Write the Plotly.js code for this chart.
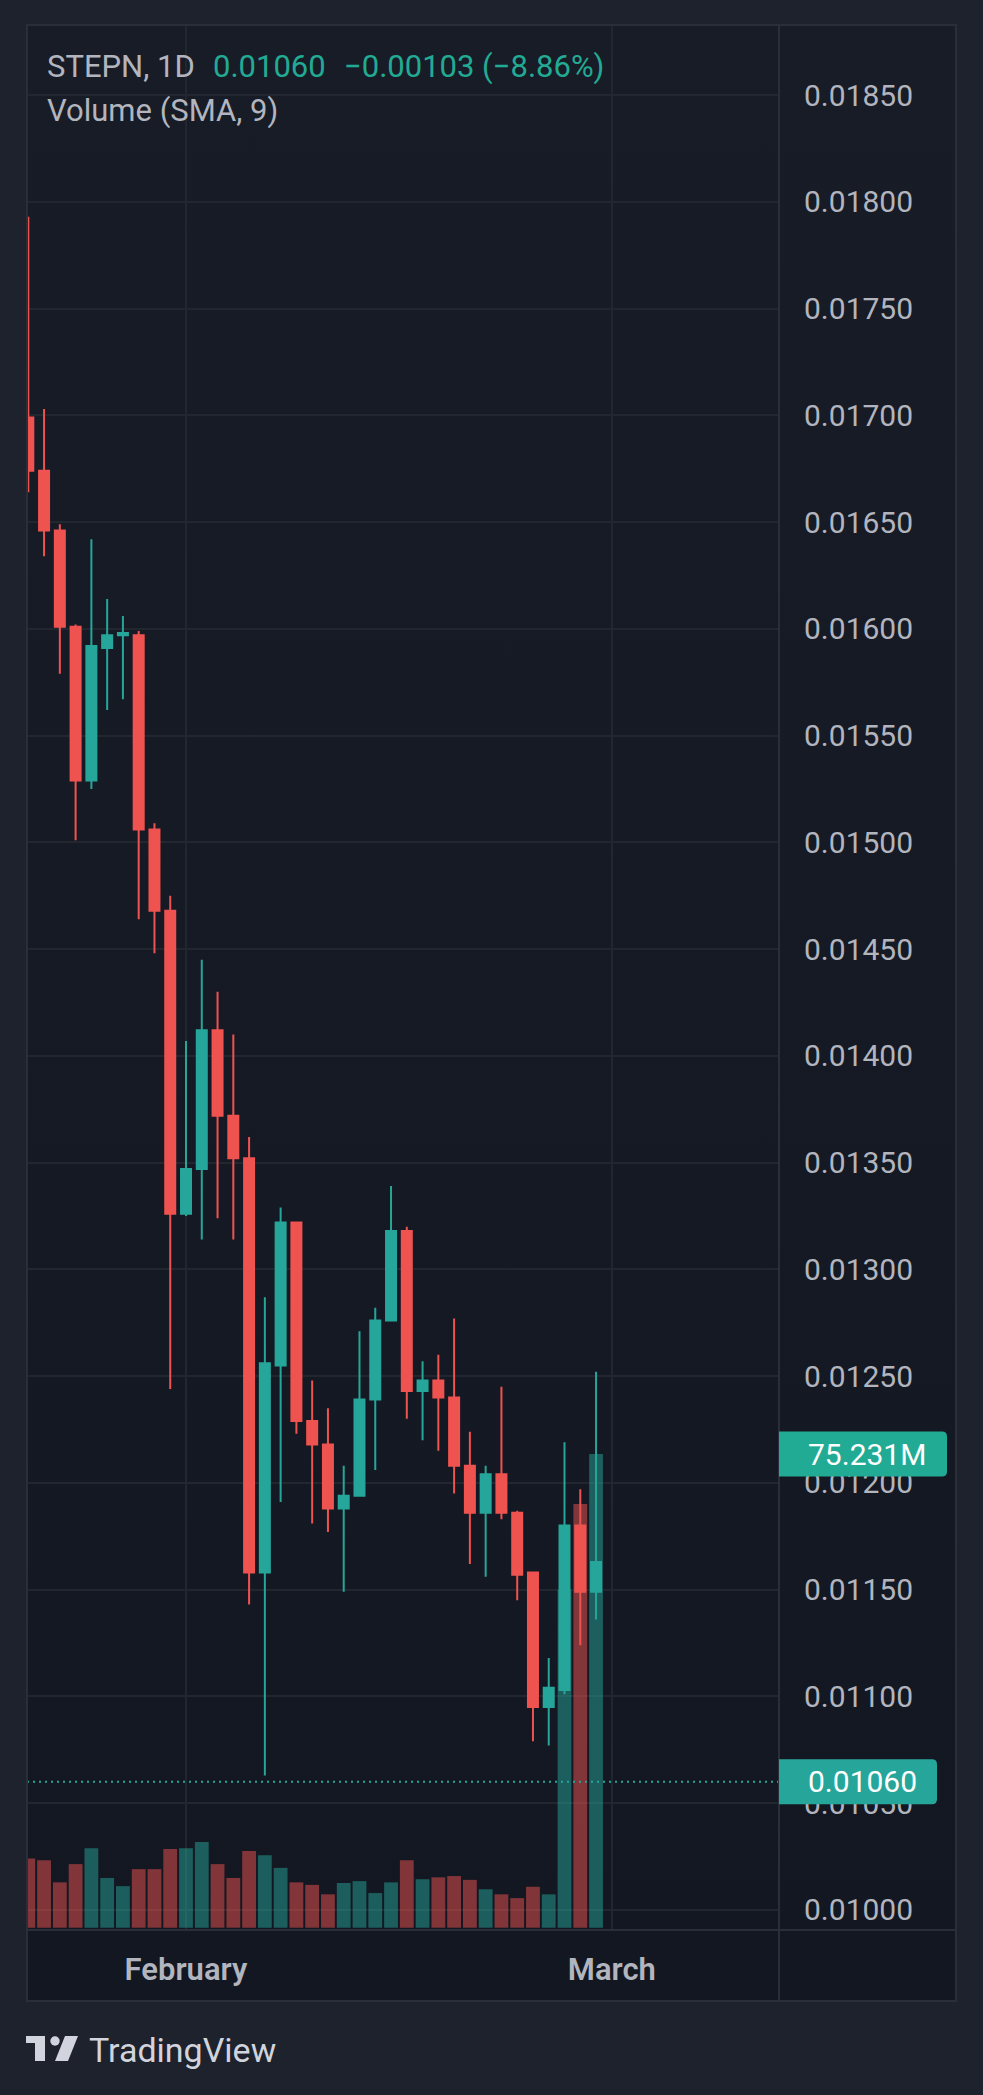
<!DOCTYPE html>
<html><head><meta charset="utf-8">
<script src="https://cdn.plot.ly/plotly-3.0.1.min.js"></script>
<style>html,body{margin:0;padding:0;background:#1e222d;}#chart{width:983px;height:2095px;}</style>
</head><body><div id="chart"></div>
<script>
// ---- data ----
const dayIdx = [0,1,2,3,4,5,6,7,8,9,10,11,12,13,14,15,16,17,18,19,20,21,22,23,24,25,26,27,28,29,30,31,32,33,34,35,36];
const openP  = [0.01699,0.01674,0.01646,0.01601,0.01529,0.01591,0.01597,0.01597,0.01506,0.01468,0.01326,0.01347,0.01412,0.01372,0.01352,0.01158,0.01255,0.01322,0.01229,0.01218,0.01188,0.01194,0.01239,0.01276,0.01318,0.01243,0.01248,0.01240,0.01208,0.01186,0.01204,0.01186,0.01158,0.01095,0.01103,0.01180,0.01149];
const highP  = [0.01793,0.01703,0.01649,0.01602,0.01642,0.01614,0.01606,0.01599,0.01509,0.01475,0.01407,0.01445,0.01430,0.01410,0.01362,0.01287,0.01329,0.01322,0.01248,0.01235,0.01208,0.01271,0.01282,0.01339,0.01320,0.01257,0.01260,0.01277,0.01224,0.01208,0.01245,0.01187,0.01158,0.01118,0.01219,0.01197,0.01252];
const lowP   = [0.01664,0.01634,0.01579,0.01501,0.01525,0.01562,0.01567,0.01464,0.01448,0.01244,0.01325,0.01314,0.01324,0.01314,0.01143,0.01063,0.01191,0.01223,0.01181,0.01177,0.01149,0.01194,0.01206,0.01276,0.01230,0.01220,0.01215,0.01195,0.01162,0.01156,0.01183,0.01145,0.01079,0.01077,0.01101,0.01124,0.01136];
const closeP = [0.01674,0.01646,0.01601,0.01529,0.01592,0.01597,0.01598,0.01506,0.01468,0.01326,0.01347,0.01412,0.01372,0.01352,0.01158,0.01256,0.01322,0.01229,0.01218,0.01188,0.01194,0.01239,0.01276,0.01318,0.01243,0.01248,0.01240,0.01208,0.01186,0.01204,0.01186,0.01157,0.01095,0.01104,0.01180,0.01149,0.01163];
const volume = [11.0e6,10.7e6,7.2e6,10.1e6,12.6e6,7.9e6,6.6e6,9.3e6,9.3e6,12.5e6,12.6e6,13.6e6,10.1e6,7.9e6,12.2e6,11.5e6,9.5e6,7.2e6,6.8e6,5.3e6,7.1e6,7.4e6,5.5e6,7.2e6,10.7e6,7.7e6,8.0e6,8.2e6,7.6e6,6.1e6,5.3e6,4.7e6,6.5e6,5.3e6,53.7e6,67.3e6,75.231e6];
const monthTicks = [10, 37];
const monthLabels = ['February', 'March'];
const priceTicks = [0.0100,0.0105,0.0110,0.0115,0.0120,0.0125,0.0130,0.0135,0.0140,0.0145,0.0150,0.0155,0.0160,0.0165,0.0170,0.0175,0.0180,0.0185];
const symbolLabel = 'STEPN, 1D';
const lastPrice = 0.01060;
const priceChange = -0.00103;
const priceChangePct = -8.86;
const volumeLabel = 'Volume (SMA, 9)';

// ---- layout geometry (pixels) ----
const L = 27, R = 779, T = 25, B = 1930;
const px = X => (X - L) / (R - L);
const py = Y => (B - Y) / (B - T);
const priceRange = [0.009906, 0.018828];
const volRange = [-0.365e6, 302.2e6];
const xRange = [-0.082, 47.60];
const priceUnitPx = (priceRange[1] - priceRange[0]) / (B - T);
const volUnitPx = (volRange[1] - volRange[0]) / (B - T);

const UP = '#26a69a', DOWN = '#ef5350';
const volColors = closeP.map((c, i) => c >= openP[i] ? 'rgba(38,166,154,0.5)' : 'rgba(239,83,80,0.5)');

const traces = [
  { type: 'bar', x: dayIdx, y: volume, yaxis: 'y', xaxis: 'x',
    marker: { color: volColors, line: { width: 0 } }, hoverinfo: 'skip' },
  { type: 'candlestick', x: dayIdx, open: openP, high: highP, low: lowP, close: closeP,
    xaxis: 'x', yaxis: 'y2', whiskerwidth: 0,
    increasing: { line: { color: UP, width: 2 }, fillcolor: UP },
    decreasing: { line: { color: DOWN, width: 2 }, fillcolor: DOWN },
    hoverinfo: 'skip' }
];

function labelBox(x0, x1, yc, halfPx, unitPx, rPx, yref, color) {
  const xa = px(x0), xb = px(x1), rx = rPx / (R - L);
  const yb = yc - halfPx * unitPx, yt = yc + halfPx * unitPx, ry = rPx * unitPx;
  return { type: 'path', xref: 'paper', yref: yref, layer: 'above',
    path: `M ${xa},${yb} L ${xb - rx},${yb} Q ${xb},${yb} ${xb},${yb + ry} L ${xb},${yt - ry} Q ${xb},${yt} ${xb - rx},${yt} L ${xa},${yt} Z`,
    fillcolor: color, line: { width: 0 } };
}

const lastVol = volume[volume.length - 1];
const frameColor = '#2a2e39';
const gridColor = '#22262f';
const logoColor = '#d1d4dc';

const shapes = [
  { type: 'line', xref: 'paper', yref: 'y2', x0: 0, x1: 1, y0: lastPrice, y1: lastPrice, layer: 'above',
    line: { color: UP, width: 2, dash: '2px,4px' } },
  { type: 'rect', xref: 'paper', yref: 'paper', x0: px(27), x1: px(956), y0: py(2001), y1: py(25), layer: 'above',
    line: { color: frameColor, width: 2 }, fillcolor: 'rgba(0,0,0,0)' },
  { type: 'line', xref: 'paper', yref: 'paper', x0: px(779), x1: px(779), y0: py(2001), y1: py(25), layer: 'above',
    line: { color: frameColor, width: 2 } },
  { type: 'line', xref: 'paper', yref: 'paper', x0: px(27), x1: px(956), y0: py(1930), y1: py(1930), layer: 'above',
    line: { color: frameColor, width: 2 } },
  labelBox(779, 947, lastVol, 22.5, volUnitPx, 5, 'y', '#22ab94'),
  labelBox(779, 937, lastPrice, 22.5, priceUnitPx, 5, 'y2', UP),
  // TradingView logo
  { type: 'path', xref: 'paper', yref: 'paper', layer: 'above', fillcolor: logoColor, line: { width: 0 },
    path: `M ${px(26)},${py(2036)} L ${px(45)},${py(2036)} L ${px(45)},${py(2061)} L ${px(35)},${py(2061)} L ${px(35)},${py(2043)} L ${px(26)},${py(2043)} Z` },
  { type: 'circle', xref: 'paper', yref: 'paper', layer: 'above', fillcolor: logoColor, line: { width: 0 },
    x0: px(50.3), x1: px(59.7), y0: py(2045.7), y1: py(2036.3) },
  { type: 'path', xref: 'paper', yref: 'paper', layer: 'above', fillcolor: logoColor, line: { width: 0 },
    path: `M ${px(65)},${py(2036)} L ${px(78)},${py(2036)} L ${px(68)},${py(2061)} L ${px(55)},${py(2061)} Z` }
];

const txt = '#b2b5be';
const ann = (text, X, Y, opts) => Object.assign({ text, xref: 'paper', yref: 'paper', x: px(X), y: py(Y),
  xanchor: 'left', yanchor: 'middle', showarrow: false, font: { family: 'Roboto', size: 31, color: txt } }, opts || {});

const fmtSigned = v => (v < 0 ? '\u2212' : '+') + Math.abs(v).toFixed(5);
const annotations = [
  ann(symbolLabel, 45, 66),
  ann(lastPrice.toFixed(5), 211, 66, { font: { family: 'Roboto', size: 31, color: '#22ab94' } }),
  ann(`${fmtSigned(priceChange)} (${priceChangePct < 0 ? '\u2212' : '+'}${Math.abs(priceChangePct).toFixed(2)}%)`, 342, 66,
      { font: { family: 'Roboto', size: 31, color: '#22ab94' } }),
  ann(volumeLabel, 45, 111),
  { text: (lastVol / 1e6).toFixed(3) + 'M', xref: 'paper', yref: 'y', x: px(806), y: lastVol, xanchor: 'left', yanchor: 'middle',
    showarrow: false, font: { family: 'Roboto', size: 30, color: '#ffffff' } },
  { text: lastPrice.toFixed(5), xref: 'paper', yref: 'y2', x: px(806), y: lastPrice, xanchor: 'left', yanchor: 'middle',
    showarrow: false, font: { family: 'Roboto', size: 30, color: '#ffffff' } },
  ann('TradingView', 87, 2050, { font: { family: 'Roboto', size: 34, color: logoColor } })
];

const gradSvg = "<svg xmlns='http://www.w3.org/2000/svg' width='10' height='100' preserveAspectRatio='none'><defs><linearGradient id='g' x1='0' y1='0' x2='0' y2='1'><stop offset='0' stop-color='#181c27'/><stop offset='1' stop-color='#131721'/></linearGradient></defs><rect width='10' height='100' fill='url(#g)'/></svg>";

const layout = {
  width: 983, height: 2095,
  margin: { l: L, r: 983 - R, t: T, b: 2095 - B, pad: 0 },
  paper_bgcolor: '#1e222d', plot_bgcolor: '#151924',
  font: { family: 'Roboto', color: txt },
  showlegend: false, bargap: 0.125, boxgap: 0.366, boxgroupgap: 0,
  xaxis: { range: xRange, tickvals: monthTicks, ticktext: monthLabels, showgrid: true, gridcolor: gridColor, gridwidth: 2,
    zeroline: false, showline: false, ticks: '', ticklabelstandoff: 18, rangeslider: { visible: false },
    tickfont: { family: 'Roboto', size: 31, color: txt, weight: 600 }, fixedrange: true },
  yaxis: { range: volRange, visible: false, showgrid: false, zeroline: false, fixedrange: true },
  yaxis2: { range: priceRange, overlaying: 'y', side: 'right', anchor: 'x', tickvals: priceTicks, tickformat: '.5f',
    showgrid: true, gridcolor: gridColor, gridwidth: 2, zeroline: false, showline: false, ticks: '',
    ticklabelstandoff: 24, tickfont: { family: 'Roboto', size: 30, color: txt }, fixedrange: true },
  shapes, annotations,
  images: [{ source: 'data:image/svg+xml;charset=utf-8,' + encodeURIComponent(gradSvg), xref: 'paper', yref: 'paper',
    x: px(27), y: py(25), sizex: px(956) - px(27), sizey: py(25) - py(2001), sizing: 'stretch',
    xanchor: 'left', yanchor: 'top', layer: 'below' }]
};

Plotly.newPlot('chart', traces, layout, { displayModeBar: false, staticPlot: true });
</script></body></html>
